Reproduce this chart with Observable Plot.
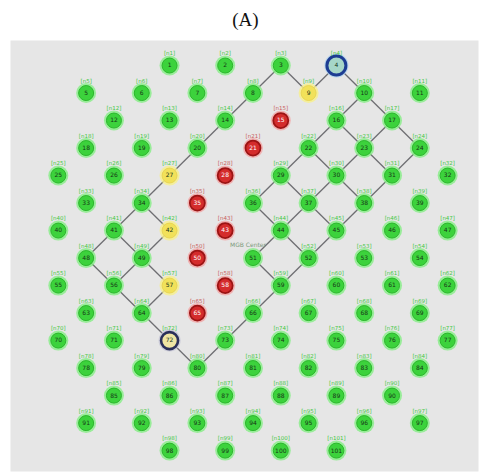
<!DOCTYPE html>
<html>
<head>
<meta charset="utf-8">
<script src="https://cdn.jsdelivr.net/npm/d3@7"></script>
<script src="https://cdn.jsdelivr.net/npm/@observablehq/plot@0.6"></script>
<style>
  html, body { margin: 0; padding: 0; background: #fff; }
  #title { height: 38px; line-height: 40px; text-align: center; font-family: "Liberation Serif", "Times New Roman", serif; font-size: 19px; color: #111; width: 491px; }
  svg { display: block; }
</style>
</head>
<body>
<div id="title">(A)</div>
<div id="chart"></div>
<script>
// Lattice rows (row index) and the columns present in each row
const rowIndex = [-7, -6, -5, -4, -3, -2, -1, 0, 1, 2, 3, 4, 5, 6, 7];
const rowColumns = [
  [-3, -1, 1, 3],
  [-6, -4, -2, 0, 2, 4, 6],
  [-5, -3, -1, 1, 3, 5],
  [-6, -4, -2, 0, 2, 4, 6],
  [-7, -5, -3, -1, 1, 3, 5, 7],
  [-6, -4, -2, 0, 2, 4, 6],
  [-7, -5, -3, -1, 1, 3, 5, 7],
  [-6, -4, -2, 0, 2, 4, 6],
  [-7, -5, -3, -1, 1, 3, 5, 7],
  [-6, -4, -2, 0, 2, 4, 6],
  [-7, -5, -3, -1, 1, 3, 5, 7],
  [-6, -4, -2, 0, 2, 4, 6],
  [-5, -3, -1, 1, 3, 5],
  [-6, -4, -2, 0, 2, 4, 6],
  [-3, -1, 1, 3]
];
// Node states (column,row)
const redNodes = ["1,-5", "0,-4", "-1,-3", "-2,-2", "-1,-1", "-2,0", "-1,1", "-2,2"];
const yellowNodes = ["2,-6", "-3,-3", "-3,-1", "-3,1"];
const blueNodes = ["3,-7"];
const navyNodes = ["-3,3"];
const centerNode = "0,0";
const centerLabel = "MGB Center";
// Links between nodes
const linkFrom = [
  "4,-6","4,-6","3,-5","3,-5","5,-5","5,-5","2,-4","2,-4","4,-4","4,-4","6,-4",
  "1,-3","1,-3","3,-3","3,-3","5,-3","0,-2","2,-2","2,-2","4,-2","1,-1","1,-1","3,-1",
  "0,0","2,0","1,1","0,2","-1,3","-2,4","-3,3",
  "-4,2","-4,2","-5,1","-5,1","-3,1","-6,0","-4,0","-4,0","-5,-1","-3,-1",
  "-4,-2","-3,-3","-2,-4","-1,-5","0,-6","1,-7","2,-6","3,-7"
];
const linkTo = [
  "3,-5","5,-5","2,-4","4,-4","4,-4","6,-4","1,-3","3,-3","3,-3","5,-3","5,-3",
  "0,-2","2,-2","2,-2","4,-2","4,-2","1,-1","1,-1","3,-1","3,-1","0,0","2,0","2,0",
  "1,1","1,1","0,2","-1,3","-2,4","-3,3","-4,2",
  "-5,1","-3,1","-6,0","-4,0","-4,0","-5,-1","-5,-1","-3,-1","-4,-2","-4,-2",
  "-3,-3","-2,-4","-1,-5","0,-6","1,-7","2,-6","3,-7","4,-6"
];

// Build node table
const nodes = [];
let id = 1;
rowIndex.forEach((r, i) => {
  rowColumns[i].forEach(c => {
    const key = `${c},${r}`;
    let state = "ok";
    if (redNodes.includes(key)) state = "red";
    else if (yellowNodes.includes(key)) state = "yellow";
    else if (blueNodes.includes(key)) state = "blue";
    else if (navyNodes.includes(key)) state = "navy";
    nodes.push({key, c, r, state, num: String(id), label: key === centerNode ? "" : `[n${id}]`});
    id++;
  });
});
const byKey = new Map(nodes.map(d => [d.key, d]));
const links = linkFrom.map((f, i) => ({a: byKey.get(f), b: byKey.get(linkTo[i])}));

const halo = {ok: "#86ee86", red: "#f2a6a6", yellow: "#f7f08a", blue: "#a9d0ee", navy: "#c4c4d4"};
const fill = {ok: "#3cd23c", red: "#d42c2c", yellow: "#f1e15a", blue: "#a6d6c8", navy: "#eee4a4"};
const stroke = {ok: "#2bb82b", red: "#9c1414", yellow: "#e6d04a", blue: "#1d3c92", navy: "#2a2f5a"};
const rad = {ok: 7.5, red: 7.5, yellow: 7.5, blue: 9.5, navy: 8.5};
const sw = {ok: 1, red: 1.8, yellow: 0.8, blue: 3, navy: 2.6};

const plot = Plot.plot({
  width: 491,
  height: 436,
  marginLeft: 10,
  marginRight: 13,
  marginTop: 2,
  marginBottom: 3,
  x: {domain: [-8.72, 8.11], axis: null},
  y: {domain: [7.76, -7.91], axis: null},
  r: {type: "identity"},
  marks: [
    Plot.frame({fill: "#e6e6e6", stroke: "none"}),
    Plot.link(links, {x1: d => d.a.c, y1: d => d.a.r, x2: d => d.b.c, y2: d => d.b.r, stroke: "#6e6e72", strokeWidth: 1.3}),
    Plot.dot(nodes, {x: "c", y: "r", r: d => rad[d.state] + 2.5, fill: d => halo[d.state], fillOpacity: 0.8, stroke: "none"}),
    Plot.dot(nodes, {x: "c", y: "r", r: d => rad[d.state], fill: d => fill[d.state], stroke: d => stroke[d.state], strokeWidth: d => sw[d.state]}),
    Plot.text(nodes, {x: "c", y: "r", text: "num", fontSize: 6, fill: d => d.state === "red" ? "#fff" : "#163616", fontFamily: "DejaVu Sans"}),
    Plot.text(nodes, {x: "c", y: "r", text: "label", dy: -12, fontSize: 5.5, fill: d => d.state === "red" ? "#c86060" : "#44c844", fontFamily: "DejaVu Sans"}),
    Plot.text(nodes.filter(d => d.key === centerNode), {x: "c", y: "r", text: () => centerLabel, dy: -13, dx: -5, fontSize: 6, fill: "#7d9a7d", fontFamily: "DejaVu Sans"})
  ]
});
document.getElementById("chart").appendChild(plot);
</script>
</body>
</html>
